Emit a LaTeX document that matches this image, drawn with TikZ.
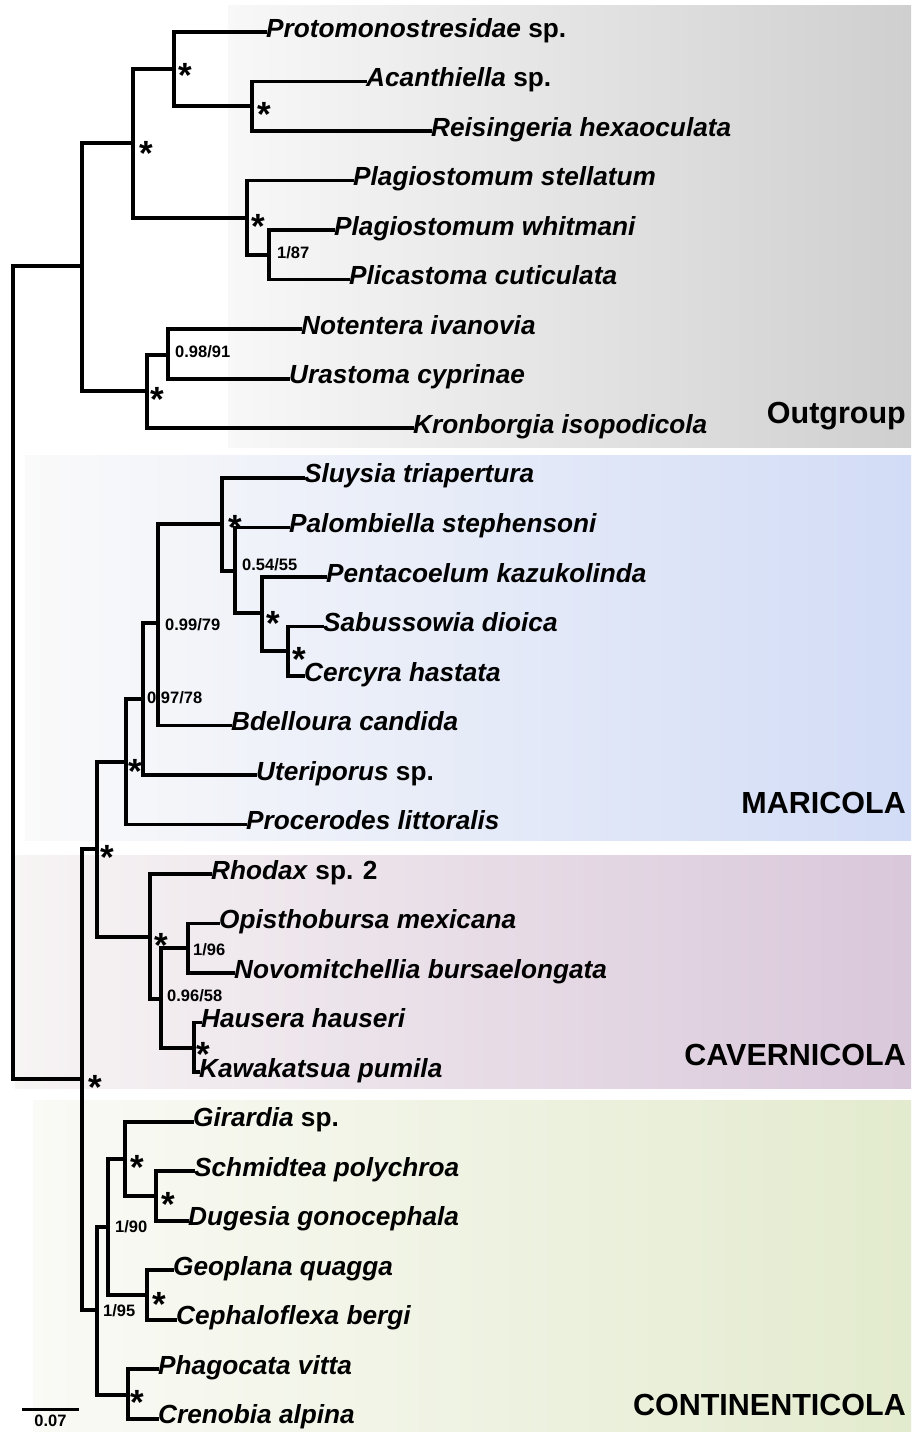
\documentclass[tikz,border=0pt]{standalone}
\usepackage{fontspec}
\setmainfont{Liberation Sans}
\usepackage{xcolor}
\definecolor{outgL}{HTML}{F8F8F8}
\definecolor{outgR}{HTML}{CFCFCF}
\definecolor{mariL}{HTML}{FAFAFA}
\definecolor{mariR}{HTML}{D2DCF6}
\definecolor{caveL}{HTML}{F7F4F4}
\definecolor{caveR}{HTML}{D9C7DA}
\definecolor{contL}{HTML}{FAFAF6}
\definecolor{contR}{HTML}{E3EBCE}

\begin{document}
\begin{tikzpicture}[
  x=1pt, y=-1pt,
  branch/.style={line width=3.5pt, line cap=rect},
  taxon/.style={anchor=west, inner sep=1pt, text height=19pt, text depth=9pt,
                font=\fontsize{26.2}{28}\selectfont\bfseries\itshape},
  supp/.style={anchor=west, inner sep=0pt, font=\fontsize{16.5}{18}\selectfont\bfseries},
  supstar/.style={inner sep=0pt, yshift=-7pt, font=\fontsize{35}{36}\selectfont\bfseries},
  clade/.style={anchor=base east, inner sep=0pt, font=\fontsize{30.5}{32}\selectfont\bfseries}
]
\useasboundingbox (0,0) rectangle (911,1432);

% coloured bands
\shade[left color=outgL, right color=outgR] (228,5) rectangle (911,447);
\shade[left color=mariL, right color=mariR] (25,455) rectangle (911,840);
\shade[left color=caveL, right color=caveR] (15,855) rectangle (911,1088);
\shade[left color=contL, right color=contR] (33,1100) rectangle (911,1432);

% taxa
\node[taxon] (proto) at (265,32) {Protomonostresidae \textup{sp.}};
\node[taxon] (acanth) at (365,81.5) {Acanthiella \textup{sp.}};
\node[taxon] (reis) at (430,131) {Reisingeria hexaoculata};
\node[taxon] (plagst) at (352,180.6) {Plagiostomum stellatum};
\node[taxon] (plagwh) at (333,230) {Plagiostomum whitmani};
\node[taxon] (plicast) at (348,279.7) {Plicastoma cuticulata};
\node[taxon] (noten) at (300,329) {Notentera ivanovia};
\node[taxon] (urast) at (288,378.8) {Urastoma cyprinae};
\node[taxon] (kronb) at (412,428) {Kronborgia isopodicola};
\node[taxon] (sluys) at (303,477.9) {Sluysia triapertura};
\node[taxon] (palomb) at (288,527.4) {Palombiella stephensoni};
\node[taxon] (pentac) at (325,577) {Pentacoelum kazukolinda};
\node[taxon] (sabus) at (322,626.5) {Sabussowia dioica};
\node[taxon] (cercyra) at (303,676) {Cercyra hastata};
\node[taxon] (bdell) at (230,725.6) {Bdelloura candida};
\node[taxon] (uterip) at (255,775) {Uteriporus \textup{sp.}};
\node[taxon] (procer) at (245,824.6) {Procerodes littoralis};
\node[taxon] (rhodax) at (210,874) {Rhodax \textup{sp. 2}};
\node[taxon] (opisth) at (218,923.7) {Opisthobursa mexicana};
\node[taxon] (novom) at (233,973) {Novomitchellia bursaelongata};
\node[taxon] (hauser) at (200,1022.7) {Hausera hauseri};
\node[taxon] (kawak) at (198,1072) {Kawakatsua pumila};
\node[taxon] (girard) at (192,1121.8) {Girardia \textup{sp.}};
\node[taxon] (schmid) at (193,1171) {Schmidtea polychroa};
\node[taxon] (dugesia) at (187,1220.8) {Dugesia gonocephala};
\node[taxon] (geopl) at (172,1270) {Geoplana quagga};
\node[taxon] (cephal) at (175,1319.8) {Cephaloflexa bergi};
\node[taxon] (phagoc) at (157,1369) {Phagocata vitta};
\node[taxon] (crenob) at (157,1418.9) {Crenobia alpina};

% internal nodes
\coordinate (root) at (13,672);
\coordinate (outg) at (82,266);
\coordinate (prot) at (133,143);
\coordinate (protB) at (174,69);
\coordinate (acan) at (252,106);
\coordinate (plag) at (247,218);
\coordinate (plic) at (269,255);
\coordinate (urasK) at (147,391);
\coordinate (notU) at (168,355);
\coordinate (ingr) at (82,1079);
\coordinate (marcav) at (97,849);
\coordinate (mari) at (126,762);
\coordinate (mar2) at (143,699);
\coordinate (mar3) at (158,623);
\coordinate (mar4) at (222,524);
\coordinate (mar5) at (235,571);
\coordinate (mar6) at (262,613);
\coordinate (mar7) at (288,651);
\coordinate (cave) at (150,937);
\coordinate (cav2) at (161,999);
\coordinate (cav3) at (188,948);
\coordinate (cav4) at (194,1048);
\coordinate (cont) at (97,1310);
\coordinate (cont2) at (108,1227);
\coordinate (cont3) at (125,1159);
\coordinate (cont4) at (156,1196);
\coordinate (cont5) at (147,1295);
\coordinate (cont6) at (128,1395);

% branches
\draw[branch] (root) |- (outg);
\draw[branch] (root) |- (ingr);
\draw[branch] (outg) |- (prot);
\draw[branch] (outg) |- (urasK);
\draw[branch] (prot) |- (protB);
\draw[branch] (prot) |- (plag);
\draw[branch] (protB) |- (proto.west);
\draw[branch] (protB) |- (acan);
\draw[branch] (acan) |- (acanth.west);
\draw[branch] (acan) |- (reis.west);
\draw[branch] (plag) |- (plagst.west);
\draw[branch] (plag) |- (plic);
\draw[branch] (plic) |- (plagwh.west);
\draw[branch] (plic) |- (plicast.west);
\draw[branch] (urasK) |- (notU);
\draw[branch] (urasK) |- (kronb.west);
\draw[branch] (notU) |- (noten.west);
\draw[branch] (notU) |- (urast.west);

\draw[branch] (ingr) |- (marcav);
\draw[branch] (ingr) |- (cont);
\draw[branch] (marcav) |- (mari);
\draw[branch] (marcav) |- (cave);
\draw[branch] (mari) |- (mar2);
\draw[branch] (mari) |- (procer.west);
\draw[branch] (mar2) |- (mar3);
\draw[branch] (mar2) |- (uterip.west);
\draw[branch] (mar3) |- (mar4);
\draw[branch] (mar3) |- (bdell.west);
\draw[branch] (mar4) |- (sluys.west);
\draw[branch] (mar4) |- (mar5);
\draw[branch] (mar5) |- (palomb.west);
\draw[branch] (mar5) |- (mar6);
\draw[branch] (mar6) |- (pentac.west);
\draw[branch] (mar6) |- (mar7);
\draw[branch] (mar7) |- (sabus.west);
\draw[branch] (mar7) |- (cercyra.west);
\draw[branch] (cave) |- (rhodax.west);
\draw[branch] (cave) |- (cav2);
\draw[branch] (cav2) |- (cav3);
\draw[branch] (cav2) |- (cav4);
\draw[branch] (cav3) |- (opisth.west);
\draw[branch] (cav3) |- (novom.west);
\draw[branch] (cav4) |- (hauser.west);
\draw[branch] (cav4) |- (kawak.west);
\draw[branch] (cont) |- (cont2);
\draw[branch] (cont) |- (cont6);
\draw[branch] (cont2) |- (cont3);
\draw[branch] (cont2) |- (cont5);
\draw[branch] (cont3) |- (girard.west);
\draw[branch] (cont3) |- (cont4);
\draw[branch] (cont4) |- (schmid.west);
\draw[branch] (cont4) |- (dugesia.west);
\draw[branch] (cont5) |- (geopl.west);
\draw[branch] (cont5) |- (cephal.west);
\draw[branch] (cont6) |- (phagoc.west);
\draw[branch] (cont6) |- (crenob.west);

% full support
\node[supstar] (s-prot) at (146,146) {*};
\node[supstar] (s-protB) at (185,68) {*};
\node[supstar] (s-acan) at (264,107) {*};
\node[supstar] (s-plag) at (258,219) {*};
\node[supstar] (s-urasK) at (157,392) {*};
\node[supstar] (s-mar4) at (235,520) {*};
\node[supstar] (s-mar6) at (273,616) {*};
\node[supstar] (s-mar7) at (299,652) {*};
\node[supstar] (s-mari) at (135,764) {*};
\node[supstar] (s-marcav) at (107,850) {*};
\node[supstar] (s-cave) at (161,938) {*};
\node[supstar] (s-cav4) at (203,1047) {*};
\node[supstar] (s-ingr) at (95,1080) {*};
\node[supstar] (s-cont3) at (137,1160) {*};
\node[supstar] (s-cont4) at (168,1197) {*};
\node[supstar] (s-cont5) at (159,1297) {*};
\node[supstar] (s-cont6) at (137,1395) {*};

% other support values
\node[supp] (v-plic) at (277,253) {1/87};
\node[supp] (v-notU) at (175,352) {0.98/91};
\node[supp] (v-mar5) at (242,565) {0.54/55};
\node[supp] (v-mar3) at (165,625) {0.99/79};
\node[supp] (v-mar2) at (147,698) {0.97/78};
\node[supp] (v-cav3) at (193,950) {1/96};
\node[supp] (v-cav2) at (167,996) {0.96/58};
\node[supp] (v-cont2) at (115,1227) {1/90};
\node[supp] (v-cont) at (103,1311) {1/95};

% clades
\node[clade] (l-outg) at (906,423) {Outgroup};
\node[clade] (l-mari) at (906,813) {MARICOLA};
\node[clade] (l-cave) at (906,1065) {CAVERNICOLA};
\node[clade] (l-cont) at (906,1415) {CONTINENTICOLA};

% scale bar
\coordinate (sb-a) at (22,1409);
\coordinate (sb-b) at (79,1409);
\draw[line width=3pt] (sb-a) -- (sb-b);
\node[supp, anchor=north] (sb-lab) at (50.5,1415) {0.07};
\end{tikzpicture}
\end{document}
